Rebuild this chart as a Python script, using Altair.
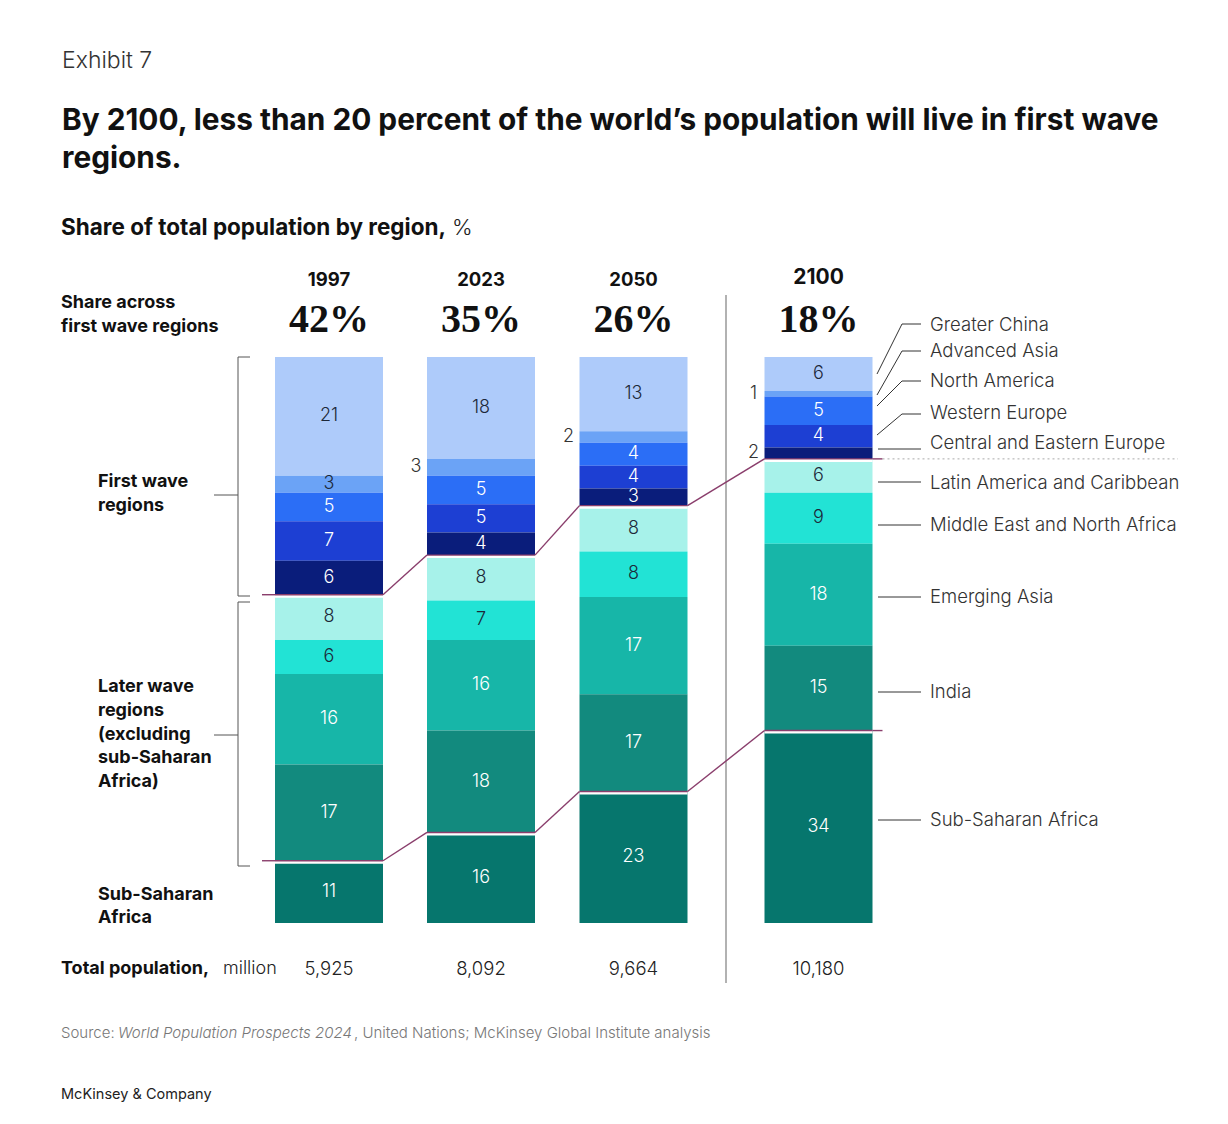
import altair as alt
import pandas as pd

# ---------------- data ----------------
years = [1997, 2023, 2050, 2100]
regions = [
    "Greater China", "Advanced Asia", "North America", "Western Europe",
    "Central and Eastern Europe", "Latin America and Caribbean",
    "Middle East and North Africa", "Emerging Asia", "India", "Sub-Saharan Africa",
]
share_1997 = [21, 3, 5, 7, 6, 8, 6, 16, 17, 11]
share_2023 = [18, 3, 5, 5, 4, 8, 7, 16, 18, 16]
share_2050 = [13, 2, 4, 4, 3, 8, 8, 17, 17, 23]
share_2100 = [6, 1, 5, 4, 2, 6, 9, 18, 15, 34]
first_wave_share = ["42%", "35%", "26%", "18%"]
total_population = ["5,925", "8,092", "9,664", "10,180"]
outside_labels = [(2023, "Advanced Asia"), (2050, "Advanced Asia"),
                  (2100, "Advanced Asia"), (2100, "Central and Eastern Europe")]

# ---------------- styles ----------------
region_colors = ["#AECBFA", "#6BA3F6", "#2B6EF6", "#1D3FD3", "#0A1D7B",
                 "#A7F2EA", "#22E3D5", "#17B6A8", "#128A7E", "#06766D"]
dark_text_regions = ["Greater China", "Advanced Asia",
                     "Latin America and Caribbean", "Middle East and North Africa"]
SANS = "Inter"
SERIF = "Liberation Serif"
PURPLE = "#8A3E6C"

shares = {1997: share_1997, 2023: share_2023, 2050: share_2050, 2100: share_2100}
rows = []
for yr in years:
    for i, (reg, val) in enumerate(zip(regions, shares[yr])):
        rows.append({
            "year": yr, "region": reg, "share": val,
            "rank": len(regions) - 1 - i,
            "tcolor": "#1c2838" if reg in dark_text_regions else "#ffffff",
            "outside": (yr, reg) in outside_labels,
        })
df = pd.DataFrame(rows)

xscale = alt.Scale(domain=years, range=[321, 473, 625.5, 810.5], nice=False, zero=False, padding=0)
yscale = alt.Scale(domain=[0, 1], range=[915, 349], nice=False, zero=False, padding=0)
X = alt.X("year:Q", scale=xscale, axis=None)

stacked = alt.Chart(df).transform_stack(
    stack="share", groupby=["year"], as_=["y0", "y1"],
    sort=[alt.SortField("rank", order="ascending")], offset="normalize",
).transform_calculate(mid="(datum.y0 + datum.y1) / 2")

bars = stacked.mark_bar(width=108).encode(
    x=X,
    y=alt.Y("y0:Q", scale=yscale, axis=None), y2="y1:Q",
    color=alt.Color("region:N", scale=alt.Scale(domain=regions, range=region_colors), legend=None),
)
inside = stacked.transform_filter("!datum.outside").mark_text(
    font=SANS, fontSize=18, fontWeight=300, baseline="middle"
).encode(x=X, y=alt.Y("mid:Q", scale=yscale, axis=None),
         text="share:Q", color=alt.Color("tcolor:N", scale=None))
outside = stacked.transform_filter("datum.outside").mark_text(
    font=SANS, fontSize=18, fontWeight=300, baseline="middle", dx=-65, color="#333333"
).encode(x=X, y=alt.Y("mid:Q", scale=yscale, axis=None), text="share:Q")

# boundaries (first wave / sub-Saharan Africa) from the stacked data
bnd = stacked.transform_filter(
    alt.FieldOneOfPredicate(field="region", oneOf=["Central and Eastern Europe", "Sub-Saharan Africa"])
).transform_calculate(
    b="datum.region == 'Sub-Saharan Africa' ? datum.y1 : datum.y0"
)
YB = alt.Y("b:Q", scale=yscale, axis=None)
under = bnd.mark_rule(color="#ffffff", strokeWidth=3, xOffset=-54, x2Offset=54, yOffset=1.5, y2Offset=1.5).encode(
    x=X, x2="year:Q", y=YB)
horiz = bnd.mark_rule(color=PURPLE, strokeWidth=1.4, xOffset=-54, x2Offset=54).encode(
    x=X, x2="year:Q", y=YB)
ext_left = bnd.transform_filter("datum.year == 1997").mark_rule(
    color=PURPLE, strokeWidth=1.4, xOffset=-67, x2Offset=-54).encode(x=X, x2="year:Q", y=YB)
ext_right = bnd.transform_filter("datum.year == 2100").mark_rule(
    color=PURPLE, strokeWidth=1.4, xOffset=54, x2Offset=64).encode(x=X, x2="year:Q", y=YB)
diag = bnd.transform_window(
    b_next="lead(b)", year_next="lead(year)", groupby=["region"], sort=[alt.SortField("year")]
).transform_filter("datum.year_next != null").mark_rule(
    color=PURPLE, strokeWidth=1.4, xOffset=54, x2Offset=-54
).encode(x=X, x2="year_next:Q", y=YB, y2="b_next:Q")
dotted = bnd.transform_filter(
    "datum.year == 2100 && datum.region == 'Central and Eastern Europe'"
).mark_rule(color="#aaaaaa", strokeWidth=1, strokeDash=[2, 3], xOffset=64).encode(
    x=X, x2=alt.value(1170), y=YB)

# column headers and totals
head = pd.DataFrame({"year": years, "fw": first_wave_share, "tot": total_population})
hbase = alt.Chart(head)
year_lbl = hbase.transform_filter("datum.year != 2100").mark_text(
    font=SANS, fontSize=18.5, fontWeight="bold", color="#111111", baseline="middle"
).encode(x=X, y=alt.value(272), text="year:N")
year_lbl_2100 = hbase.transform_filter("datum.year == 2100").mark_text(
    font=SANS, fontSize=21, fontWeight="bold", color="#111111", baseline="middle"
).encode(x=X, y=alt.value(270), text="year:N")
pct_lbl = hbase.mark_text(
    font=SERIF, fontSize=40, fontWeight="bold", color="#111111", baseline="middle"
).encode(x=X, y=alt.value(312), text="fw:N")
tot_lbl = hbase.mark_text(
    font=SANS, fontSize=18.5, fontWeight=300, color="#222222", baseline="middle"
).encode(x=X, y=alt.value(961), text="tot:N")

# ---------------- annotation text ----------------
def txt(items, **kw):
    d = pd.DataFrame(items, columns=["x", "y", "t"])
    return alt.Chart(d).mark_text(font=SANS, align="left", baseline="middle", **kw).encode(
        x=alt.X("x:Q", scale=None, axis=None), y=alt.Y("y:Q", scale=None, axis=None), text="t:N")

exhibit = txt([(54, 53, "Exhibit 7")], fontSize=23, fontWeight=300, color="#333333")
title = txt([(54, 113, "By 2100, less than 20 percent of the world\u2019s population will live in first wave"),
             (54, 151, "regions.")], fontSize=29.8, fontWeight="bold", color="#111111")
sub_b = txt([(53, 220, "Share of total population by region,")], fontSize=22.5, fontWeight="bold", color="#111111")
sub_r = txt([(444, 220, "%")], fontSize=22, fontWeight=300, color="#222222")
left_b = txt([(53, 295, "Share across"), (53, 319, "first wave regions"),
              (90, 474, "First wave"), (90, 498, "regions"),
              (90, 679, "Later wave"), (90, 703, "regions"), (90, 727, "(excluding"),
              (90, 750, "sub-Saharan"), (90, 774, "Africa)"),
              (90, 887, "Sub-Saharan"), (90, 910, "Africa"),
              (53, 961, "Total population,")], fontSize=18, fontWeight="bold", color="#111111")
left_r = txt([(215, 961, "million")], fontSize=18, fontWeight=300, color="#222222")
legend_y = [317, 343, 373, 405, 435, 475, 517, 589, 684, 812]
legend = txt([(922, y, r) for y, r in zip(legend_y, regions)], fontSize=18.5, fontWeight=300, color="#333333")
src1 = txt([(53, 1025, "Source:")], fontSize=15, fontWeight=300, color="#777777")
src2 = txt([(110, 1025, "World Population Prospects 2024")], fontSize=15, fontWeight=300,
           fontStyle="italic", color="#777777")
src3 = txt([(346, 1025, ", United Nations; McKinsey Global Institute analysis")], fontSize=15,
           fontWeight=300, color="#777777")
brand = txt([(53, 1087, "McKinsey & Company")], fontSize=14.5, color="#222222")

# ---------------- annotation lines ----------------
def lines(items, **kw):
    d = pd.DataFrame(items, columns=["x1", "y1", "x2", "y2"])
    return alt.Chart(d).mark_rule(**kw).encode(
        x=alt.X("x1:Q", scale=None, axis=None), y=alt.Y("y1:Q", scale=None, axis=None),
        x2="x2:Q", y2="y2:Q")

brackets = lines([
    (230, 349, 230, 588), (230, 349, 242, 349), (230, 588, 242, 588), (206, 487, 230, 487),
    (230, 594, 230, 858), (230, 594, 242, 594), (230, 858, 242, 858), (206, 727, 230, 727),
], color="#555555", strokeWidth=1)
divider = lines([(718, 287, 718, 975)], color="#999999", strokeWidth=1.5)
leaders = lines([
    (869, 366, 894, 316), (894, 316, 913, 316),
    (869, 387, 894, 343), (894, 343, 913, 343),
    (869, 398, 894, 373), (894, 373, 913, 373),
    (869, 427, 894, 406), (894, 406, 913, 406),
    (870, 441, 913, 441), (870, 474, 913, 474), (870, 517, 913, 517),
    (870, 589, 913, 589), (870, 684, 913, 684), (870, 812, 913, 812),
], color="#333333", strokeWidth=1)

chart = alt.layer(
    brackets, divider, leaders, bars, under, horiz, ext_left, ext_right, diag, dotted,
    inside, outside, year_lbl, year_lbl_2100, pct_lbl, tot_lbl,
    exhibit, title, sub_b, sub_r, left_b, left_r, legend, src1, src2, src3, brand,
).resolve_scale(x="independent", y="independent").properties(
    width=1212, height=1108, padding=0, autosize="none", background="#ffffff"
).configure_view(stroke=None)

chart.save("out.html", embed_options={"renderer": "svg", "actions": False})
